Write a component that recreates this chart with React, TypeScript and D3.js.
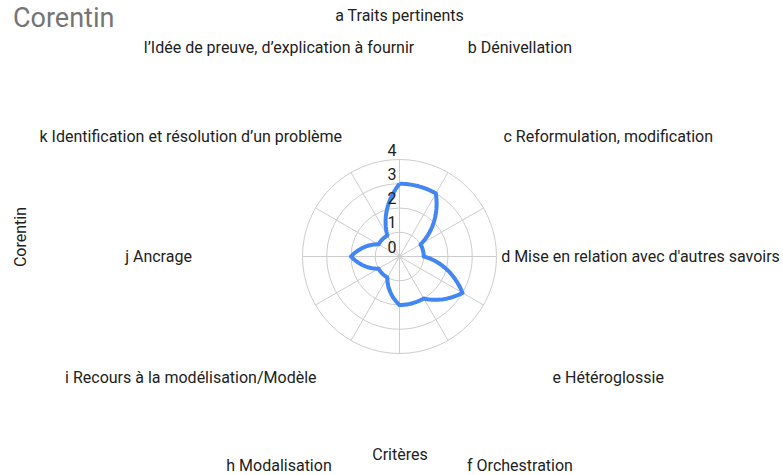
import React, { useEffect, useRef } from 'react';
import * as d3 from 'd3';

// Critères (axes du radar), dans l'ordre horaire depuis le haut
const criteria = [
  'a Traits pertinents',
  'b Dénivellation',
  'c Reformulation, modification',
  "d Mise en relation avec d'autres savoirs",
  'e Hétéroglossie',
  'f Orchestration',
  'g',
  'h Modalisation',
  'i Recours à la modélisation/Modèle',
  'j Ancrage',
  'k Identification et résolution d’un problème',
  'l’Idée de preuve, d’explication à fournir',
];
// Scores de Corentin
const scores = [3, 3, 1, 1, 3, 2, 2, 1, 1, 2, 1, 1];
const tickValues = [0, 1, 2, 3, 4];

const chartTitle = 'Corentin';
const xTitle = 'Critères';
const yTitle = 'Corentin';

// curve that joins points by interpolating radius linearly with the angle (polar line)
const curvePolar = (context: any) => {
  let prev: { a: number; r: number } | null = null;
  return {
    areaStart() {},
    areaEnd() {},
    lineStart() { prev = null; },
    lineEnd() {},
    point(x: number, y: number) {
      const r = Math.hypot(x, y);
      const a = Math.atan2(x, -y);
      if (!prev) {
        context.moveTo(x, y);
        prev = { a, r };
        return;
      }
      let da = a - prev.a;
      while (da <= -Math.PI) da += 2 * Math.PI;
      while (da > Math.PI) da -= 2 * Math.PI;
      const n = Math.max(1, Math.ceil(Math.abs(da) / 0.02));
      for (let k = 1; k <= n; k++) {
        const t = k / n;
        const aa = prev.a + da * t;
        const rr = prev.r + (r - prev.r) * t;
        context.lineTo(rr * Math.sin(aa), -rr * Math.cos(aa));
      }
      prev = { a: prev.a + da, r };
    },
  };
};

const App = () => {
  const svgRef = useRef<SVGSVGElement>(null);

  useEffect(() => {
    const svg = d3.select(svgRef.current);
    svg.selectAll('*').remove();

    const width = 783;
    const height = 475;
    const cx = 399.5;
    const cy = 256.5;
    const radius = 97;
    const labelRadius = 241;
    const font = 'Roboto, Arial, sans-serif';

    svg.attr('width', width).attr('height', height);

    const rScale = d3.scaleLinear().domain([0, 4]).range([0, radius]);
    const aScale = d3.scaleLinear().domain([0, criteria.length]).range([0, 2 * Math.PI]);

    const g = svg.append('g').attr('transform', `translate(${cx}, ${cy})`);

    // grid rings
    g.selectAll('.ring')
      .data(tickValues.filter(d => d > 0))
      .enter().append('circle')
      .attr('r', d => rScale(d))
      .attr('fill', 'none')
      .attr('stroke', '#cccccc')
      .attr('stroke-width', 1);

    // spokes
    g.selectAll('.spoke')
      .data(criteria)
      .enter().append('line')
      .attr('x1', 0)
      .attr('y1', 0)
      .attr('x2', (d, i) => rScale(4) * Math.sin(aScale(i)))
      .attr('y2', (d, i) => -rScale(4) * Math.cos(aScale(i)))
      .attr('stroke', '#cccccc')
      .attr('stroke-width', 1);

    // series line
    const line = d3.lineRadial<number>()
      .angle((d, i) => aScale(i))
      .radius(d => rScale(d))
      .curve(curvePolar as any);

    g.append('path')
      .datum(scores.concat(scores[0]))
      .attr('d', line)
      .attr('fill', 'none')
      .attr('stroke', '#4285f4')
      .attr('stroke-width', 4)
      .attr('stroke-linejoin', 'round');

    // tick labels
    g.selectAll('.tick')
      .data(tickValues)
      .enter().append('text')
      .attr('x', -3)
      .attr('y', d => -rScale(d) - 4)
      .attr('text-anchor', 'end')
      .style('font-family', font)
      .style('font-size', '16px')
      .attr('fill', '#222222')
      .text(d => d);

    // criteria labels (the one that falls below the chart area is not shown)
    const labels = criteria
      .map((d, i) => ({
        text: d,
        x: labelRadius * Math.sin(aScale(i)),
        y: -labelRadius * Math.cos(aScale(i)),
      }))
      .filter(d => cy + d.y + 8 < height);

    g.selectAll('.label')
      .data(labels)
      .enter().append('text')
      .attr('x', d => d.x)
      .attr('y', d => d.y)
      .attr('dy', '0.35em')
      .attr('text-anchor', 'middle')
      .style('font-family', font)
      .style('font-size', '16px')
      .attr('fill', '#222222')
      .text(d => d.text);

    // title
    svg.append('text')
      .attr('x', 13)
      .attr('y', 27)
      .style('font-family', font)
      .style('font-size', '27px')
      .attr('fill', '#757575')
      .text(chartTitle);

    // x title
    svg.append('text')
      .attr('x', 400)
      .attr('y', 460)
      .attr('text-anchor', 'middle')
      .style('font-family', font)
      .style('font-size', '16px')
      .attr('fill', '#222222')
      .text(xTitle);

    // y title
    svg.append('text')
      .attr('transform', 'translate(26, 237) rotate(-90)')
      .attr('text-anchor', 'middle')
      .style('font-family', font)
      .style('font-size', '16px')
      .attr('fill', '#222222')
      .text(yTitle);
  }, []);

  return (
    <svg
      ref={svgRef}
      style={{ position: 'absolute', left: 0, top: 0, display: 'block', background: '#ffffff' }}
    ></svg>
  );
};

export default App;
